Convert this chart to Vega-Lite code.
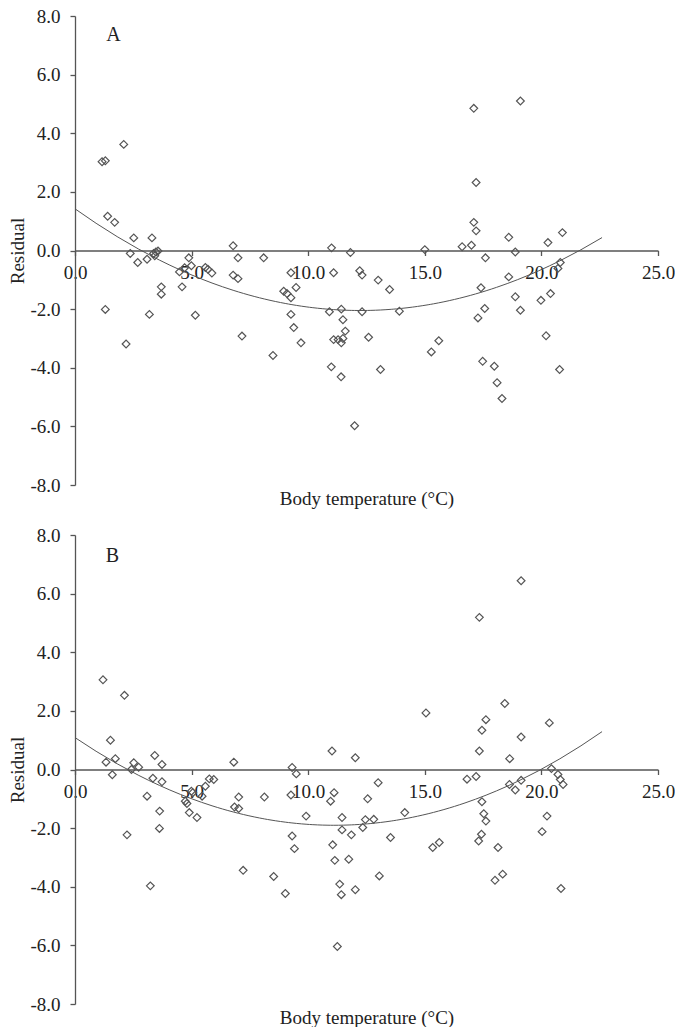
{
  "$schema": "https://vega.github.io/schema/vega-lite/v6.json",
  "background": "white",
  "padding": {"left": 8, "top": 7, "right": 0, "bottom": 0},
  "config": {
    "view": {"stroke": null},
    "font": "Liberation Serif",
    "axis": {
      "labelFont": "Liberation Serif", "titleFont": "Liberation Serif",
      "labelFontSize": 19, "titleFontSize": 19, "titleFontWeight": "normal",
      "labelColor": "#222222", "titleColor": "#222222",
      "domainColor": "#555555", "tickColor": "#555555",
      "domainWidth": 1.3, "tickWidth": 1.3, "tickSize": 5, "grid": false
    }
  },
  "datasets": {
    "a": [
      {"t":1.16,"r":3.03},{"t":1.30,"r":3.06},{"t":2.09,"r":3.62},{"t":1.40,"r":1.17},{"t":1.70,"r":0.96},
      {"t":2.52,"r":0.43},{"t":3.30,"r":0.43},{"t":2.37,"r":-0.10},{"t":2.69,"r":-0.41},{"t":3.09,"r":-0.30},
      {"t":3.37,"r":-0.10},{"t":3.47,"r":-0.05},{"t":3.56,"r":-0.02},{"t":3.42,"r":-0.18},{"t":3.70,"r":-1.24},
      {"t":3.70,"r":-1.49},{"t":1.30,"r":-2.01},{"t":2.19,"r":-3.19},{"t":3.19,"r":-2.18},{"t":4.88,"r":-0.25},
      {"t":4.70,"r":-0.59},{"t":4.99,"r":-0.52},{"t":4.48,"r":-0.73},{"t":4.59,"r":-1.24},{"t":5.16,"r":-2.21},
      {"t":5.59,"r":-0.58},{"t":5.70,"r":-0.64},{"t":5.87,"r":-0.77},{"t":6.78,"r":-0.84},{"t":6.99,"r":-0.96},
      {"t":6.78,"r":0.16},{"t":6.99,"r":-0.25},{"t":8.09,"r":-0.25},{"t":7.16,"r":-2.92},{"t":8.49,"r":-3.58},
      {"t":8.95,"r":-1.39},{"t":9.09,"r":-1.47},{"t":9.26,"r":-1.61},{"t":9.26,"r":-0.76},{"t":9.48,"r":-1.26},
      {"t":9.26,"r":-2.18},{"t":9.38,"r":-2.63},{"t":9.69,"r":-3.15},{"t":11.00,"r":0.09},{"t":11.09,"r":-0.76},
      {"t":10.91,"r":-2.09},{"t":11.42,"r":-2.00},{"t":11.49,"r":-2.36},{"t":11.59,"r":-2.75},{"t":11.09,"r":-3.04},
      {"t":11.28,"r":-3.04},{"t":11.42,"r":-3.15},{"t":11.49,"r":-3.00},{"t":10.99,"r":-3.97},{"t":11.41,"r":-4.31},
      {"t":11.99,"r":-5.98},{"t":11.81,"r":-0.07},{"t":12.21,"r":-0.69},{"t":12.31,"r":-0.84},{"t":12.31,"r":-2.09},
      {"t":12.59,"r":-2.96},{"t":13.00,"r":-1.01},{"t":13.49,"r":-1.33},{"t":13.91,"r":-2.07},{"t":13.10,"r":-4.06},
      {"t":15.28,"r":-3.46},{"t":15.60,"r":-3.08},{"t":15.00,"r":0.03},{"t":16.60,"r":0.13},{"t":17.00,"r":0.18},
      {"t":17.10,"r":4.85},{"t":19.10,"r":5.10},{"t":17.20,"r":2.32},{"t":17.10,"r":0.96},{"t":17.20,"r":0.67},
      {"t":18.60,"r":0.45},{"t":20.28,"r":0.27},{"t":20.90,"r":0.61},{"t":18.88,"r":-0.05},{"t":17.60,"r":-0.25},
      {"t":17.41,"r":-1.27},{"t":17.57,"r":-1.98},{"t":17.28,"r":-2.30},{"t":18.60,"r":-0.90},{"t":18.88,"r":-1.58},
      {"t":19.10,"r":-2.04},{"t":17.48,"r":-3.78},{"t":17.98,"r":-3.95},{"t":18.10,"r":-4.51},{"t":18.31,"r":-5.05},
      {"t":19.98,"r":-1.70},{"t":20.39,"r":-1.47},{"t":20.20,"r":-2.91},{"t":20.78,"r":-4.06},{"t":20.71,"r":-0.61},
      {"t":20.81,"r":-0.41}
    ],
    "b": [
      {"t":1.20,"r":3.06},{"t":2.12,"r":2.53},{"t":1.52,"r":1.00},{"t":1.73,"r":0.37},{"t":1.33,"r":0.25},
      {"t":2.52,"r":0.23},{"t":2.73,"r":0.08},{"t":2.42,"r":0.00},{"t":1.60,"r":-0.18},{"t":3.42,"r":0.48},
      {"t":3.73,"r":0.17},{"t":3.34,"r":-0.30},{"t":3.73,"r":-0.42},{"t":3.09,"r":-0.91},{"t":3.63,"r":-1.42},
      {"t":3.62,"r":-2.01},{"t":2.23,"r":-2.23},{"t":3.23,"r":-3.97},{"t":4.99,"r":-0.74},{"t":5.05,"r":-0.79},
      {"t":4.73,"r":-1.08},{"t":4.80,"r":-1.16},{"t":4.90,"r":-1.47},{"t":5.23,"r":-1.64},{"t":5.45,"r":-0.91},
      {"t":5.59,"r":-0.57},{"t":5.76,"r":-0.32},{"t":5.95,"r":-0.34},{"t":6.81,"r":0.25},{"t":7.02,"r":-0.94},
      {"t":6.84,"r":-1.28},{"t":7.02,"r":-1.33},{"t":7.21,"r":-3.44},{"t":8.12,"r":-0.94},{"t":8.52,"r":-3.65},
      {"t":9.02,"r":-4.23},{"t":9.31,"r":0.07},{"t":9.49,"r":-0.15},{"t":9.26,"r":-0.87},{"t":9.91,"r":-1.59},
      {"t":9.31,"r":-2.27},{"t":9.41,"r":-2.70},{"t":11.02,"r":0.63},{"t":12.02,"r":0.40},{"t":11.11,"r":-0.79},
      {"t":10.96,"r":-1.08},{"t":11.45,"r":-1.64},{"t":11.45,"r":-2.06},{"t":11.05,"r":-2.57},{"t":11.14,"r":-3.10},
      {"t":11.35,"r":-3.91},{"t":11.42,"r":-4.27},{"t":11.25,"r":-6.04},{"t":11.85,"r":-2.23},{"t":11.74,"r":-3.06},
      {"t":12.02,"r":-4.10},{"t":12.55,"r":-1.00},{"t":12.34,"r":-1.98},{"t":12.45,"r":-1.71},{"t":12.81,"r":-1.70},
      {"t":13.00,"r":-0.45},{"t":13.05,"r":-3.63},{"t":13.53,"r":-2.32},{"t":14.14,"r":-1.47},{"t":15.34,"r":-2.66},
      {"t":15.62,"r":-2.49},{"t":15.05,"r":1.93},{"t":16.81,"r":-0.33},{"t":17.20,"r":-0.24},{"t":17.34,"r":5.19},
      {"t":19.13,"r":6.44},{"t":18.43,"r":2.25},{"t":17.62,"r":1.70},{"t":17.45,"r":1.34},{"t":20.34,"r":1.59},
      {"t":19.13,"r":1.11},{"t":17.34,"r":0.63},{"t":18.64,"r":0.37},{"t":17.45,"r":-1.10},{"t":17.53,"r":-1.51},
      {"t":17.62,"r":-1.76},{"t":17.43,"r":-2.21},{"t":17.31,"r":-2.44},{"t":18.14,"r":-2.66},{"t":18.01,"r":-3.78},
      {"t":18.34,"r":-3.57},{"t":18.63,"r":-0.51},{"t":18.88,"r":-0.70},{"t":19.13,"r":-0.37},{"t":20.43,"r":0.03},
      {"t":20.71,"r":-0.17},{"t":20.81,"r":-0.34},{"t":20.93,"r":-0.51},{"t":20.24,"r":-1.59},{"t":20.03,"r":-2.12},
      {"t":20.84,"r":-4.06}
    ]
  },
  "spacing": 50,
  "bounds": "flush",
  "vconcat": [
    {
      "width": 583, "height": 469,
      "resolve": {"axis": {"x": "independent"}},
      "layer": [
        {
          "data": {"name": "a"},
          "mark": {"type": "point", "shape": "diamond", "filled": false, "stroke": "#555555", "strokeWidth": 1.2, "size": 60, "opacity": 1},
          "encoding": {
            "x": {"field": "t", "type": "quantitative", "scale": {"domain": [0, 25], "nice": false},
                  "axis": {"orient": "bottom", "offset": -234.5, "values": [0, 5, 10, 15, 20, 25], "format": ".1f", "title": null, "labelPadding": 8, "labelFlush": false, "labelOverlap": false}},
            "y": {"field": "r", "type": "quantitative", "scale": {"domain": [-8, 8], "nice": false},
                  "axis": {"values": [-8, -6, -4, -2, 0, 2, 4, 6, 8], "labelExpr": "replace(format(datum.value, '.1f'), '\u2212', '-')", "title": "Residual", "labelPadding": 10, "titlePadding": 2, "labelFlush": false, "labelOverlap": false}}
          }
        },
        {
          "data": {"name": "a"},
          "transform": [{"regression": "r", "on": "t", "method": "poly", "order": 2, "extent": [0, 22.6]}],
          "mark": {"type": "line", "stroke": "#555555", "strokeWidth": 1},
          "encoding": {
            "x": {"field": "t", "type": "quantitative", "axis": {"orient": "bottom", "title": "Body temperature (°C)", "domain": false, "ticks": false, "labels": false, "titlePadding": 4}},
            "y": {"field": "r", "type": "quantitative",
                  "axis": {"values": [-8, -6, -4, -2, 0, 2, 4, 6, 8], "labelExpr": "replace(format(datum.value, '.1f'), '\u2212', '-')", "title": "Residual", "labelPadding": 10, "titlePadding": 2, "labelFlush": false, "labelOverlap": false}}
          }
        },
        {
          "data": {"values": [{}]},
          "mark": {"type": "text", "font": "Liberation Serif", "fontSize": 20, "color": "#222222"},
          "encoding": {
            "x": {"datum": 1.65, "type": "quantitative", "axis": null},
            "y": {"datum": 7.35, "type": "quantitative",
                  "axis": {"values": [-8, -6, -4, -2, 0, 2, 4, 6, 8], "labelExpr": "replace(format(datum.value, '.1f'), '\u2212', '-')", "title": "Residual", "labelPadding": 10, "titlePadding": 2, "labelFlush": false, "labelOverlap": false}},
            "text": {"value": "A"}
          }
        }
      ]
    },
    {
      "width": 583, "height": 469,
      "resolve": {"axis": {"x": "independent"}},
      "layer": [
        {
          "data": {"name": "b"},
          "mark": {"type": "point", "shape": "diamond", "filled": false, "stroke": "#555555", "strokeWidth": 1.2, "size": 60, "opacity": 1},
          "encoding": {
            "x": {"field": "t", "type": "quantitative", "scale": {"domain": [0, 25], "nice": false},
                  "axis": {"orient": "bottom", "offset": -234.5, "values": [0, 5, 10, 15, 20, 25], "format": ".1f", "title": null, "labelPadding": 8, "labelFlush": false, "labelOverlap": false}},
            "y": {"field": "r", "type": "quantitative", "scale": {"domain": [-8, 8], "nice": false},
                  "axis": {"values": [-8, -6, -4, -2, 0, 2, 4, 6, 8], "labelExpr": "replace(format(datum.value, '.1f'), '\u2212', '-')", "title": "Residual", "labelPadding": 10, "titlePadding": 2, "labelFlush": false, "labelOverlap": false}}
          }
        },
        {
          "data": {"name": "b"},
          "transform": [{"regression": "r", "on": "t", "method": "poly", "order": 2, "extent": [0, 22.6]}],
          "mark": {"type": "line", "stroke": "#555555", "strokeWidth": 1},
          "encoding": {
            "x": {"field": "t", "type": "quantitative", "axis": {"orient": "bottom", "title": "Body temperature (°C)", "domain": false, "ticks": false, "labels": false, "titlePadding": 4}},
            "y": {"field": "r", "type": "quantitative",
                  "axis": {"values": [-8, -6, -4, -2, 0, 2, 4, 6, 8], "labelExpr": "replace(format(datum.value, '.1f'), '\u2212', '-')", "title": "Residual", "labelPadding": 10, "titlePadding": 2, "labelFlush": false, "labelOverlap": false}}
          }
        },
        {
          "data": {"values": [{}]},
          "mark": {"type": "text", "font": "Liberation Serif", "fontSize": 20, "color": "#222222"},
          "encoding": {
            "x": {"datum": 1.6, "type": "quantitative", "axis": null},
            "y": {"datum": 7.29, "type": "quantitative",
                  "axis": {"values": [-8, -6, -4, -2, 0, 2, 4, 6, 8], "labelExpr": "replace(format(datum.value, '.1f'), '\u2212', '-')", "title": "Residual", "labelPadding": 10, "titlePadding": 2, "labelFlush": false, "labelOverlap": false}},
            "text": {"value": "B"}
          }
        }
      ]
    }
  ]
}
